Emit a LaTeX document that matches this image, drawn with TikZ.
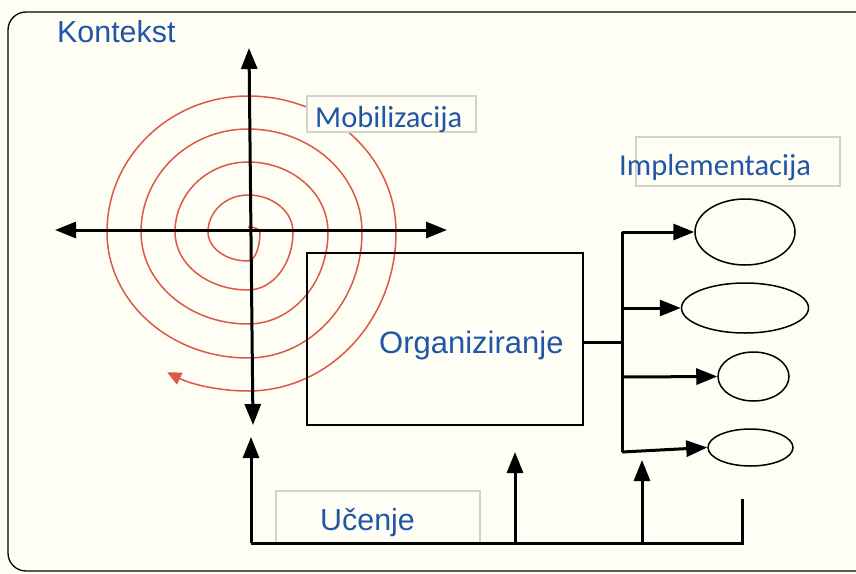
\documentclass[tikz,border=0pt]{standalone}
\usepackage{fontspec}
\setmainfont{Liberation Sans}
\newfontfamily\carlito{Carlito}
\usetikzlibrary{arrows.meta,shapes.geometric}
\definecolor{bg}{HTML}{FEFEF5}
\definecolor{txtblue}{HTML}{2156A5}
\definecolor{spiralred}{HTML}{DD5848}
\definecolor{boxgray}{HTML}{D3D3CB}
\begin{document}
\begin{tikzpicture}[x=1pt,y=-1pt,
  thickline/.style={line width=3pt},
  tipend/.style={-{Triangle[length=21pt,width=16pt]}},
  tipboth/.style={{Triangle[length=21pt,width=16pt]}-{Triangle[length=21pt,width=16pt]}},
  lbl/.style={text=txtblue, font=\fontsize{30.4}{36}\selectfont, inner sep=0pt, anchor=base west},
  clbl/.style={lbl, font=\carlito\fontsize{30.5}{36}\selectfont},
  graybox/.style={draw=boxgray, line width=1.5pt, fill=bg, inner sep=0pt},
  oval/.style={ellipse, draw, line width=1.5pt, inner sep=0pt}
]
\useasboundingbox (0,0) rectangle (856,573);
\fill[bg] (0,0) rectangle (856,573);
\draw[line width=1.3pt, rounded corners=18pt] (8,12) rectangle (890,571);

% spiral
\draw[spiralred, line width=1.5pt, -{Triangle[length=14pt,width=13pt]}]
  (248,227)
  arc[start angle=270, end angle=360, x radius=12,  y radius=5]
  arc[start angle=0,   end angle=90,  x radius=12,  y radius=29]
  arc[start angle=90,  end angle=180, x radius=40,  y radius=29]
  arc[start angle=180, end angle=270, x radius=40,  y radius=37]
  arc[start angle=270, end angle=360, x radius=45,  y radius=37]
  arc[start angle=0,   end angle=90,  x radius=45,  y radius=58]
  arc[start angle=90,  end angle=180, x radius=73,  y radius=58]
  arc[start angle=180, end angle=270, x radius=73,  y radius=70]
  arc[start angle=270, end angle=360, x radius=80,  y radius=70]
  arc[start angle=0,   end angle=90,  x radius=80,  y radius=92]
  arc[start angle=90,  end angle=180, x radius=107, y radius=92]
  arc[start angle=180, end angle=270, x radius=107, y radius=103]
  arc[start angle=270, end angle=360, x radius=114, y radius=103]
  arc[start angle=0,   end angle=90,  x radius=114, y radius=126]
  arc[start angle=90,  end angle=180, x radius=141, y radius=126]
  arc[start angle=180, end angle=270, x radius=141, y radius=136]
  arc[start angle=270, end angle=360, x radius=148, y radius=136]
  arc[start angle=0,   end angle=90,  x radius=148, y radius=159]
  arc[start angle=90,  end angle=118, x radius=172, y radius=159];

% label boxes
\node[graybox, minimum width=169pt, minimum height=36pt] (mobbox) at (391.5,114) {};
\node[graybox, minimum width=204pt, minimum height=49pt] (implbox) at (738,161.5) {};
\node[graybox, minimum width=204pt, minimum height=52pt] (ucbox) at (378,517) {};

% organiziranje box
\node[draw, line width=1.3pt, minimum width=276pt, minimum height=172pt, inner sep=0pt] (org) at (445,339) {};

% axes
\coordinate (vtop) at (249,48);
\coordinate (vbot) at (253,425);
\coordinate (hleft) at (55,230);
\coordinate (hright) at (447,230);
\draw[thickline, tipboth] (vtop) -- (vbot);
\draw[thickline, tipboth] (hleft) -- (hright);

% ellipses
\node[oval, minimum width=100pt, minimum height=66pt] (e1) at (745,232) {};
\node[oval, minimum width=127pt, minimum height=50pt] (e2) at (745,308) {};
\node[oval, minimum width=71pt,  minimum height=49pt] (e3) at (753.5,376.5) {};
\node[oval, minimum width=85pt,  minimum height=37pt] (e4) at (750.5,447.5) {};

% bus
\coordinate (b1) at (622,232);
\coordinate (b2) at (622,308);
\coordinate (b3) at (622,377);
\coordinate (b4) at (622,452);
\draw[thickline] (org.east |- 0,342) -- (622,342);
\draw[thickline] (b1) -- (b4);
\draw[thickline, tipend] (b1) -- (e1.west);
\draw[thickline, tipend] (b2) -- (e2.west);
\draw[thickline, tipend] (b3) -- (e3.west);
\draw[thickline, tipend] (b4) -- (e4.west);

% learning loop
\coordinate (l1) at (251,543);
\coordinate (l2) at (515,543);
\coordinate (l3) at (642,543);
\coordinate (l4) at (742,543);
\coordinate (l4top) at (742,499);
\coordinate (up1) at (251,437);
\coordinate (up2) at (515,452);
\coordinate (up3) at (642,460);
\draw[thickline] (l4top) -- (l4) -- (l1);
\draw[thickline, tipend] (l1) -- (up1);
\draw[thickline, tipend] (l2) -- (up2);
\draw[thickline, tipend] (l3) -- (up3);

% texts
\node[lbl] (kontekst) at (57,42) {Kontekst};
\node[clbl] (mob) at (315,127) {Mobilizacija};
\node[clbl] (impl) at (619,175) {Implementacija};
\node[lbl, font=\fontsize{31}{36}\selectfont] (orgtxt) at (379,353) {Organiziranje};
\node[lbl] (ucenje) at (320,530) {Učenje};
\end{tikzpicture}
\end{document}
